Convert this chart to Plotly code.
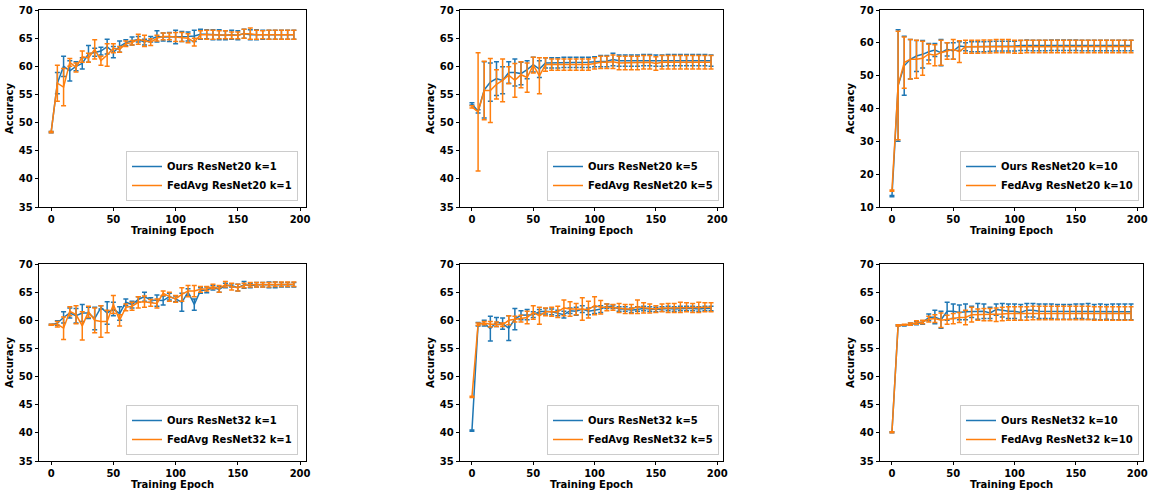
import plotly.graph_objects as go

epochs = list(range(0, 200, 5))

# ---- ResNet20 k=1 ----
r20k1_ours = [48.3, 57.0, 60.0, 59.2, 60.0, 60.5, 62.2, 62.5, 62.7, 63.5,
              62.5, 63.5, 64.2, 64.5, 64.8, 64.3, 64.8, 65.3, 65.2, 65.2,
              65.2, 65.3, 65.3, 65.4, 65.7, 65.7, 65.6, 65.6, 65.5, 65.6,
              65.5, 65.8, 65.6, 65.6, 65.6, 65.6, 65.6, 65.6, 65.6, 65.6]
r20k1_ours_err = [0.1, 1.9, 1.8, 1.8, 0.8, 1.0, 1.5, 0.7, 0.7, 1.3,
                  1.0, 1.0, 0.5, 0.7, 0.5, 0.5, 0.5, 1.0, 0.7, 0.8,
                  1.2, 0.9, 0.8, 1.0, 0.9, 0.8, 0.9, 0.9, 0.8, 0.8,
                  0.8, 0.8, 0.9, 0.9, 0.8, 0.8, 0.8, 0.8, 0.8, 0.8]
r20k1_fed = [48.3, 57.0, 56.3, 60.7, 59.8, 61.7, 61.5, 63.0, 61.0, 62.0,
             63.2, 63.0, 64.0, 64.2, 64.8, 64.5, 64.3, 65.0, 65.3, 65.3,
             65.2, 65.2, 65.0, 64.3, 65.6, 65.6, 65.6, 65.6, 65.6, 65.5,
             65.5, 65.8, 65.8, 65.6, 65.6, 65.6, 65.6, 65.6, 65.6, 65.6]
r20k1_fed_err = [0.1, 3.2, 3.3, 0.7, 0.8, 1.0, 0.8, 1.7, 0.8, 2.0,
                 0.8, 0.5, 0.5, 0.4, 0.9, 1.0, 0.6, 0.5, 0.6, 0.6,
                 0.8, 0.8, 0.8, 0.7, 0.7, 0.8, 0.8, 0.7, 0.7, 0.6,
                 0.6, 0.8, 1.0, 0.8, 0.7, 0.8, 0.8, 0.8, 0.8, 0.8]

# ---- ResNet20 k=5 ----
r20k5_ours = [53.3, 52.0, 55.8, 57.2, 57.8, 57.5, 58.9, 58.9, 58.7, 59.4,
              60.3, 59.5, 60.6, 60.6, 60.6, 60.7, 60.7, 60.7, 60.7, 60.7,
              60.8, 60.9, 60.9, 61.2, 61.0, 61.0, 61.0, 61.0, 61.1, 61.1,
              61.0, 61.0, 61.1, 61.1, 61.1, 61.1, 61.1, 61.1, 61.1, 61.0]
r20k5_ours_err = [0.2, 0.3, 5.0, 3.4, 3.0, 2.4, 1.9, 2.4, 2.0, 1.6,
                  1.3, 1.5, 0.9, 0.9, 0.9, 0.9, 0.9, 0.9, 0.9, 0.9,
                  0.9, 1.0, 1.0, 1.1, 1.0, 1.0, 1.0, 1.0, 1.0, 1.0,
                  1.0, 1.0, 1.0, 1.0, 1.0, 1.0, 1.0, 1.0, 1.0, 1.0]
r20k5_fed = [52.8, 51.9, 55.7, 55.7, 56.8, 57.5, 58.4, 57.5, 58.5, 58.0,
             60.2, 58.3, 60.3, 60.3, 60.3, 60.3, 60.3, 60.3, 60.3, 60.3,
             60.5, 60.7, 60.7, 60.8, 60.6, 60.6, 60.6, 60.6, 60.7, 60.7,
             60.5, 60.7, 60.7, 60.7, 60.7, 60.7, 60.7, 60.7, 60.7, 60.7]
r20k5_fed_err = [0.2, 10.5, 5.2, 5.7, 2.6, 3.8, 1.5, 3.0, 2.3, 2.6,
                 1.4, 3.2, 1.2, 1.0, 1.0, 1.0, 1.0, 1.0, 1.0, 1.0,
                 1.0, 1.1, 1.1, 1.2, 1.2, 1.2, 1.2, 1.2, 1.2, 1.2,
                 1.2, 1.2, 1.2, 1.2, 1.2, 1.2, 1.2, 1.2, 1.2, 1.2]

# ---- ResNet20 k=10 ----
r20k10_ours = [13.3, 47.0, 53.0, 55.0, 56.0, 56.5, 57.3, 57.8, 57.0, 58.0,
               57.5, 59.0, 58.8, 58.8, 58.8, 58.8, 58.9, 59.0, 59.0, 59.0,
               59.0, 59.2, 59.3, 59.2, 59.2, 59.2, 59.3, 59.3, 59.3, 59.3,
               59.3, 59.2, 59.2, 59.2, 59.2, 59.2, 59.2, 59.2, 59.2, 59.2]
r20k10_ours_err = [0.2, 17.0, 9.0, 6.0, 4.7, 4.2, 2.5, 2.0, 4.0, 2.0,
                   2.5, 1.3, 1.2, 1.5, 1.5, 1.5, 1.5, 1.5, 1.5, 1.5,
                   1.5, 1.5, 1.6, 1.6, 1.6, 1.6, 1.6, 1.6, 1.6, 1.6,
                   1.6, 1.6, 1.6, 1.6, 1.6, 1.6, 1.6, 1.6, 1.6, 1.6]
r20k10_fed = [15.0, 47.0, 54.0, 55.0, 55.0, 55.3, 56.6, 56.2, 57.0, 57.5,
              58.0, 57.3, 58.8, 58.8, 58.8, 58.9, 58.9, 59.0, 59.0, 59.0,
              58.8, 58.8, 58.9, 58.9, 58.9, 58.9, 58.9, 58.9, 58.9, 58.9,
              58.9, 58.9, 58.9, 58.9, 58.9, 58.9, 58.9, 58.9, 58.9, 58.9]
r20k10_fed_err = [0.2, 16.5, 7.8, 6.0, 5.8, 5.2, 3.0, 3.2, 3.8, 2.5,
                  3.0, 3.3, 2.0, 2.0, 2.0, 2.0, 2.0, 2.0, 2.0, 2.0,
                  2.0, 2.0, 1.9, 1.9, 1.9, 1.9, 1.9, 1.9, 1.9, 1.9,
                  1.9, 1.9, 1.9, 1.9, 1.9, 1.9, 1.9, 1.9, 1.9, 1.9]

# ---- ResNet32 k=1 ----
r32k1_ours = [59.2, 59.5, 60.5, 61.3, 60.8, 61.3, 61.3, 60.3, 62.3, 61.3,
              62.0, 61.2, 63.2, 62.8, 63.7, 64.2, 63.6, 63.5, 63.5, 64.2,
              63.8, 63.2, 65.0, 62.8, 65.3, 65.4, 65.8, 65.5, 66.2, 66.2,
              65.8, 66.3, 66.2, 66.3, 66.3, 66.3, 66.3, 66.3, 66.3, 66.3]
r32k1_ours_err = [0.1, 0.4, 1.0, 0.9, 1.3, 1.5, 1.0, 2.0, 0.3, 2.0,
                  1.2, 1.2, 0.6, 0.6, 0.5, 0.8, 0.4, 1.0, 0.8, 0.6,
                  0.5, 1.6, 0.6, 1.0, 0.5, 0.5, 0.4, 0.5, 0.4, 0.3,
                  0.6, 0.6, 0.4, 0.4, 0.4, 0.5, 0.5, 0.4, 0.4, 0.4]
r32k1_fed = [59.2, 59.3, 58.6, 61.6, 61.0, 59.0, 61.5, 60.0, 59.8, 59.8,
             62.8, 60.0, 62.3, 62.5, 63.2, 63.3, 63.1, 63.0, 64.8, 64.2,
             63.8, 64.6, 65.2, 65.2, 65.5, 65.6, 66.0, 65.6, 66.4, 66.0,
             65.8, 66.2, 66.3, 66.3, 66.3, 66.3, 66.4, 66.4, 66.4, 66.4]
r32k1_fed_err = [0.1, 0.5, 2.0, 0.8, 1.6, 2.5, 1.0, 2.2, 2.8, 2.0,
                 1.6, 1.0, 0.6, 0.7, 1.0, 1.0, 0.6, 0.8, 0.4, 0.8,
                 0.6, 1.2, 1.0, 1.0, 0.5, 0.4, 0.4, 0.6, 0.5, 0.6,
                 0.6, 0.4, 0.4, 0.4, 0.4, 0.4, 0.4, 0.4, 0.4, 0.4]

# ---- ResNet32 k=5 ----
r32k5_ours = [40.4, 59.3, 59.5, 58.5, 59.7, 59.4, 58.6, 60.2, 60.9, 61.0,
              61.0, 61.5, 61.6, 61.5, 61.3, 61.0, 61.7, 61.6, 62.0, 61.6,
              61.8, 62.0, 62.5, 62.4, 62.0, 62.0, 61.8, 62.0, 62.1, 62.0,
              61.9, 62.0, 62.1, 62.0, 62.1, 62.1, 62.1, 62.0, 62.1, 62.1]
r32k5_ours_err = [0.1, 0.3, 0.5, 2.2, 0.8, 1.0, 2.2, 1.9, 0.8, 0.9,
                  0.5, 0.4, 0.5, 0.5, 0.5, 0.6, 0.5, 0.7, 0.6, 0.6,
                  0.6, 0.6, 0.4, 0.3, 0.4, 0.4, 0.4, 0.4, 0.4, 0.4,
                  0.4, 0.4, 0.4, 0.4, 0.4, 0.4, 0.4, 0.4, 0.4, 0.4]
r32k5_fed = [46.4, 59.3, 59.5, 59.3, 59.3, 59.2, 60.0, 60.2, 60.3, 60.5,
             61.4, 60.8, 61.5, 61.5, 61.5, 62.2, 62.0, 62.0, 62.0, 61.9,
             62.6, 62.3, 62.3, 62.3, 62.2, 62.0, 62.0, 62.4, 62.2, 62.1,
             62.0, 62.2, 62.2, 62.2, 62.3, 62.3, 62.2, 62.3, 62.3, 62.3]
r32k5_fed_err = [0.1, 0.2, 0.3, 0.5, 0.4, 0.3, 0.8, 0.5, 0.6, 1.1,
                 1.2, 1.5, 0.7, 0.8, 1.0, 1.4, 1.3, 1.0, 2.0, 1.5,
                 1.6, 1.2, 0.6, 0.5, 0.8, 0.8, 0.8, 1.2, 0.9, 0.8,
                 0.6, 0.7, 0.8, 0.8, 0.9, 0.8, 0.8, 0.9, 0.8, 0.8]

# ---- ResNet32 k=10 ----
r32k10_ours = [40.1, 59.1, 59.1, 59.3, 59.5, 59.6, 60.5, 60.6, 60.1, 61.6,
               61.6, 61.4, 61.5, 61.5, 61.6, 61.6, 61.3, 61.9, 61.8, 61.6,
               61.6, 61.4, 61.8, 61.8, 61.6, 61.6, 61.6, 61.5, 61.5, 61.5,
               61.6, 61.6, 61.6, 61.5, 61.5, 61.5, 61.5, 61.5, 61.5, 61.5]
r32k10_ours_err = [0.1, 0.1, 0.1, 0.2, 0.3, 0.3, 0.6, 1.2, 1.5, 1.6,
                   1.3, 1.3, 1.4, 1.0, 1.4, 1.3, 1.0, 1.0, 1.2, 1.3,
                   1.3, 1.4, 1.2, 1.2, 1.3, 1.3, 1.3, 1.3, 1.3, 1.3,
                   1.3, 1.3, 1.4, 1.3, 1.4, 1.3, 1.4, 1.4, 1.4, 1.4]
r32k10_fed = [40.1, 59.1, 59.2, 59.3, 59.6, 59.7, 60.2, 60.3, 60.0, 60.1,
              60.3, 60.5, 60.5, 61.0, 61.0, 61.0, 61.0, 61.0, 61.1, 61.2,
              61.2, 61.2, 61.2, 61.3, 61.3, 61.3, 61.3, 61.3, 61.3, 61.3,
              61.3, 61.3, 61.3, 61.2, 61.2, 61.2, 61.2, 61.2, 61.2, 61.2]
r32k10_fed_err = [0.1, 0.1, 0.1, 0.2, 0.3, 0.3, 0.5, 0.7, 1.3, 0.8,
                  0.9, 0.9, 1.3, 1.3, 1.0, 1.1, 1.1, 1.2, 1.2, 1.2,
                  1.2, 1.2, 1.2, 1.2, 1.2, 1.2, 1.2, 1.2, 1.2, 1.2,
                  1.2, 1.2, 1.2, 1.2, 1.2, 1.2, 1.2, 1.2, 1.2, 1.2]

x_ticks = [0, 50, 100, 150, 200]

panels = [
    ("ResNet20", "k=1", r20k1_ours, r20k1_ours_err, r20k1_fed, r20k1_fed_err, [35, 70], 5),
    ("ResNet20", "k=5", r20k5_ours, r20k5_ours_err, r20k5_fed, r20k5_fed_err, [35, 70], 5),
    ("ResNet20", "k=10", r20k10_ours, r20k10_ours_err, r20k10_fed, r20k10_fed_err, [10, 70], 10),
    ("ResNet32", "k=1", r32k1_ours, r32k1_ours_err, r32k1_fed, r32k1_fed_err, [35, 70], 5),
    ("ResNet32", "k=5", r32k5_ours, r32k5_ours_err, r32k5_fed, r32k5_fed_err, [35, 70], 5),
    ("ResNet32", "k=10", r32k10_ours, r32k10_ours_err, r32k10_fed, r32k10_fed_err, [35, 70], 5),
]

W, H = 1152, 494
col_px = [(39, 306), (460, 723), (880, 1143)]
row_px = [(10, 207), (264, 461)]
legend_right_px = [298, 719, 1139]


def fx(p):
    return p / W


def fy(p):
    return 1 - p / H


BLUE = "#1f77b4"
ORANGE = "#ff7f0e"
FONT = dict(family="DejaVu Sans", size=10, color="black", weight="bold")

fig = go.Figure()
layout = dict(
    width=W, height=H,
    margin=dict(l=0, r=0, t=0, b=0),
    paper_bgcolor="white", plot_bgcolor="white",
    font=FONT, showlegend=True,
)

for i, (net, k, ours, ours_err, fed, fed_err, yr, dt) in enumerate(panels):
    r, c = divmod(i, 3)
    n = i + 1
    xa = "x" if n == 1 else f"x{n}"
    ya = "y" if n == 1 else f"y{n}"
    lg = "legend" if n == 1 else f"legend{n}"
    for name, vals, errs, color in [
        (f"Ours {net} {k}", ours, ours_err, BLUE),
        (f"FedAvg {net} {k}", fed, fed_err, ORANGE),
    ]:
        fig.add_trace(go.Scatter(
            x=epochs, y=vals, mode="lines", name=name,
            line=dict(color=color, width=1.5),
            error_y=dict(type="data", array=errs, visible=True,
                         color=color, thickness=1.5, width=2.5),
            xaxis=xa, yaxis=ya, legend=lg,
        ))
    x0, x1 = col_px[c]
    y0, y1 = row_px[r]
    axis_common = dict(
        showline=True, linecolor="black", linewidth=0.8, mirror=True,
        ticks="outside", ticklen=3.5, tickwidth=0.8, tickcolor="black",
        showgrid=False, zeroline=False, automargin=False,
        tickfont=FONT, ticklabeloverflow="allow",
    )
    layout["xaxis" if n == 1 else f"xaxis{n}"] = dict(
        domain=[fx(x0), fx(x1)], range=[-9.75, 204.75],
        tickvals=x_ticks, anchor=ya,
        title=dict(text="Training Epoch", font=FONT, standoff=2),
        **axis_common,
    )
    layout["yaxis" if n == 1 else f"yaxis{n}"] = dict(
        domain=[fy(y1), fy(y0)], range=yr, dtick=dt,
        anchor=xa,
        title=dict(text="Accuracy", font=FONT, standoff=3),
        **axis_common,
    )
    layout[lg] = dict(
        x=fx(legend_right_px[c]), xanchor="right",
        y=fy(y1 - 6), yanchor="bottom",
        xref="paper", yref="paper",
        bgcolor="rgba(255,255,255,0.8)", bordercolor="#cccccc", borderwidth=1,
        font=FONT, tracegroupgap=0, itemwidth=30,
    )

fig.update_layout(**layout)
fig.write_html(
    "out.html",
    config={"displayModeBar": False},
    post_script="document.body.style.margin='0';document.body.style.overflow='hidden';",
)
